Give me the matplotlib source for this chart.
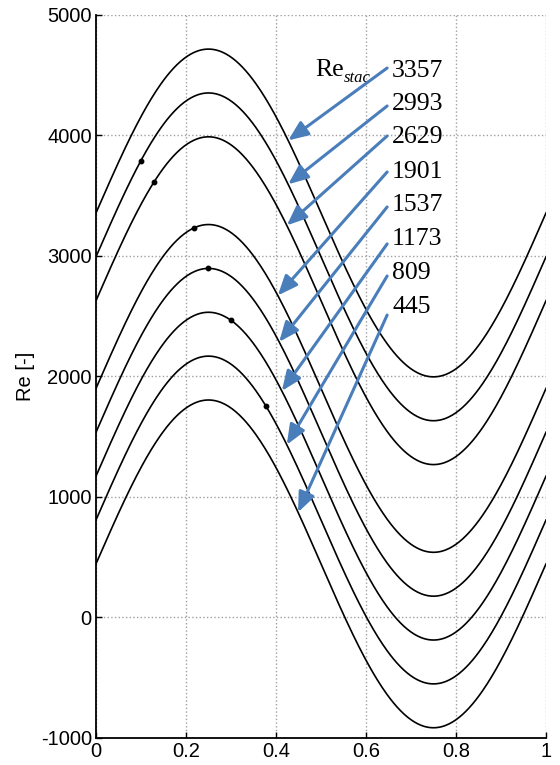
import numpy as np
import matplotlib.pyplot as plt

plt.rcParams['axes.unicode_minus'] = False

# stationary Reynolds numbers of the curves (top to bottom) and oscillation amplitude
re_stac = [3357, 2993, 2629, 1901, 1537, 1173, 809, 445]
amplitude = 1360

# dots drawn on some curves: (curve value, t)
dot_curves = [2993, 2629, 1901, 1537, 1173, 809]
dot_t = [0.100, 0.129, 0.218, 0.249, 0.300, 0.378]

# arrow tips (t on each curve) and label heights
arrow_t = [0.427, 0.427, 0.424, 0.404, 0.407, 0.413, 0.424, 0.449]
label_y = [4535, 4261, 3988, 3697, 3423, 3141, 2859, 2577]
tail_y = [4560, 4245, 3996, 3697, 3407, 3100, 2834, 2510]

xticks = [0, 0.2, 0.4, 0.6, 0.8, 1]
xtick_labels = ['0', '0.2', '0.4', '0.6', '0.8', '1']
yticks = [-1000, 0, 1000, 2000, 3000, 4000, 5000]


def curve(base, t):
    return base + amplitude * np.sin(2 * np.pi * np.asarray(t))


fig = plt.figure(figsize=(5.6, 7.65), dpi=100)
ax = fig.add_axes([0.1714, 0.0353, 0.8036, 0.9451])

t = np.linspace(0, 1, 400)
for base in re_stac:
    ax.plot(t, curve(base, t), color='black', lw=1.2, zorder=3)

for base, td in zip(dot_curves, dot_t):
    ax.plot(td, curve(base, td), 'o', color='black', ms=3.2, zorder=4)

arrow_color = '#4a7ebb'
for base, ta, ly, ty in zip(re_stac, arrow_t, label_y, tail_y):
    ax.annotate('', xy=(ta, curve(base, ta)), xytext=(0.647, ty),
                arrowprops=dict(arrowstyle='-|>,head_length=1.2,head_width=0.5',
                                color=arrow_color, lw=2.2, shrinkA=0, shrinkB=0),
                zorder=5)
    ax.text(0.658, ly, str(base), family='Liberation Serif', fontsize=18.5,
            va='center', ha='left', zorder=6)

# "Re" with italic subscript "stac"
ax.text(0.487, 4494, 'Re', family='Liberation Serif', fontsize=18.5,
        va='baseline', ha='left')
ax.text(0.551, 4444, 'stac', family='Liberation Serif', style='italic',
        fontsize=12, va='baseline', ha='left')

ax.set_xlim(0, 1)
ax.set_ylim(-1000, 5000)
ax.set_xticks(xticks)
ax.set_xticklabels(xtick_labels)
ax.set_yticks(yticks)
ax.tick_params(direction='in', length=4, width=1, labelsize=14.5, pad=3)
for lab in ax.get_xticklabels() + ax.get_yticklabels():
    lab.set_family('Liberation Sans')

ax.grid(True, linestyle=':', color='#a0a0a0', lw=1)
ax.spines['top'].set_visible(False)
ax.spines['right'].set_visible(False)
ax.spines['left'].set_linewidth(1.3)
ax.spines['bottom'].set_linewidth(1.3)

ax.set_ylabel('Re [-]', family='Liberation Sans', fontsize=14.5, labelpad=4)

fig.savefig('out.png', dpi=100)
